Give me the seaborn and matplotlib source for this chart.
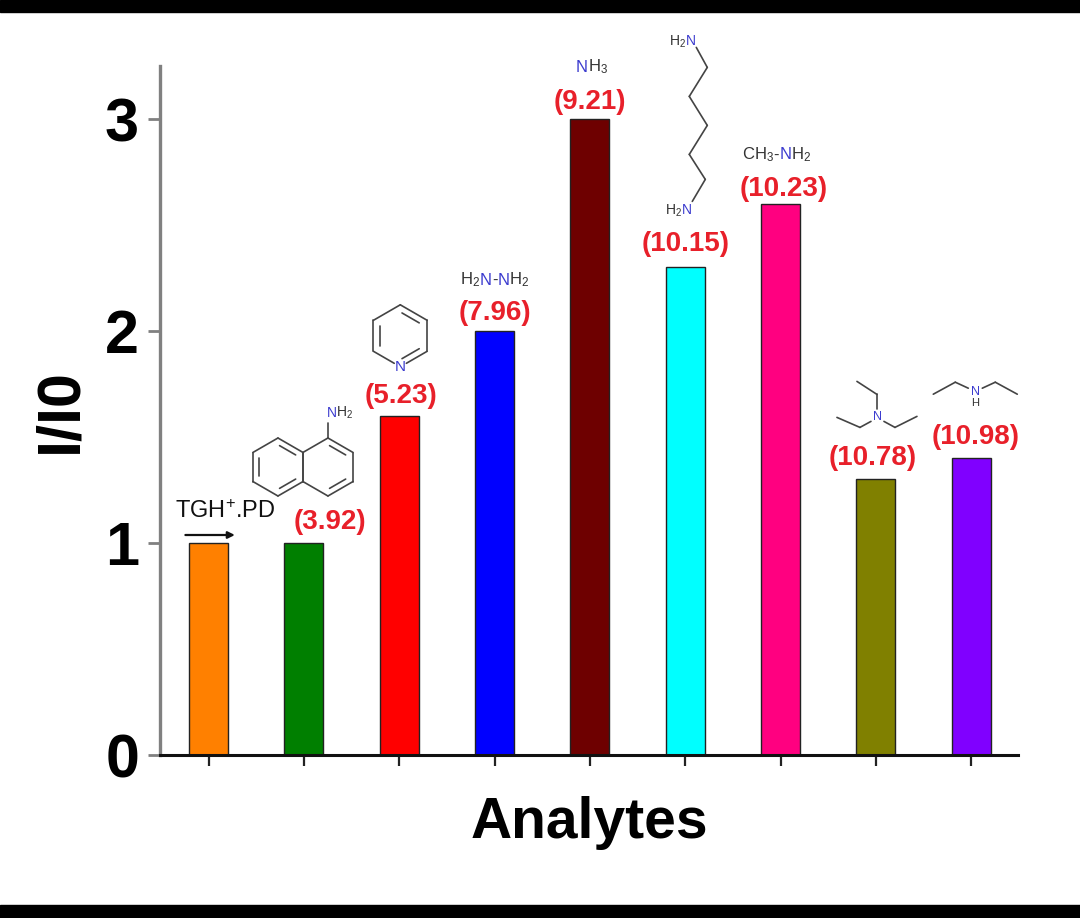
import numpy as np
import matplotlib
matplotlib.use("Agg")
import matplotlib.pyplot as plt
import seaborn as sns
from matplotlib.transforms import Affine2D, ScaledTranslation
from matplotlib.offsetbox import TextArea, HPacker, AnnotationBbox
from matplotlib.patches import Rectangle
from matplotlib.lines import Line2D

# data
analytes = ["TGH+.PD", "1-Naphthylamine", "Pyridine", "Hydrazine", "Ammonia",
            "Hexane-1,6-diamine", "Methylamine", "Triethylamine", "Diethylamine"]
ratio = [1.0, 1.0, 1.6, 2.0, 3.0, 2.3, 2.6, 1.3, 1.4]
pka = ["", "(3.92)", "(5.23)", "(7.96)", "(9.21)", "(10.15)", "(10.23)", "(10.78)", "(10.98)"]
bar_colors = ["#ff8000", "#007f00", "#ff0000", "#0000ff", "#6e0000",
              "#00ffff", "#ff0080", "#808000", "#8000ff"]
yticks = [0, 1, 2, 3]

# pixel offsets of the pKa labels from each bar top (dx, up)
pka_offsets = [(0, 0), (26, 21), (2, 20), (0, 18), (0, 17), (0, 23), (3, 15), (-3, 21), (4, 21)]

sns.set_style("ticks")
plt.rcParams["font.family"] = ["Liberation Sans", "DejaVu Sans"]
plt.rcParams["text.color"] = "black"
plt.rcParams["axes.labelcolor"] = "black"
plt.rcParams["ytick.labelcolor"] = "black"
plt.rcParams["mathtext.fontset"] = "custom"
plt.rcParams["mathtext.rm"] = "Liberation Sans"
plt.rcParams["mathtext.it"] = "Liberation Sans:italic"
plt.rcParams["mathtext.bf"] = "Liberation Sans:bold"

fig = plt.figure(figsize=(10.8, 9.18), dpi=100)
ax = fig.add_axes([160 / 1080, 1 - 755 / 918, 858 / 1080, 689 / 918])

sns.barplot(x=analytes, y=ratio, hue=analytes, palette=bar_colors, width=0.41,
            saturation=1, edgecolor="#222222", linewidth=1, legend=False, ax=ax)

ax.set_xlim(-0.51, 8.49)
ax.set_ylim(0, 3.25)
sns.despine(ax=ax)
ax.spines["left"].set_color("#808080")
ax.spines["left"].set_linewidth(2.4)
ax.spines["bottom"].set_color("#111111")
ax.spines["bottom"].set_linewidth(2.2)

ax.set_xticks(range(len(analytes)))
ax.tick_params(axis="x", length=8, width=1.6, color="#222222", labelbottom=False)
ax.set_yticks(yticks)
ax.set_yticklabels([str(t) for t in yticks], fontweight="bold", fontsize=44, color="black")
ax.tick_params(axis="y", length=9, width=2, color="#808080", pad=6)

ax.set_xlabel("Analytes", fontsize=41, fontweight="bold", color="black")
ax.xaxis.set_label_coords(0.5, -0.06)
ax.set_ylabel("I/I0", fontsize=44, fontweight="bold", color="black")
ax.yaxis.set_label_coords(-0.082, 0.5)

PT = 72 / 100  # px -> points
GRAY = "#333333"
BLUE = "#3c3ccf"


def anchor(i):
    return Affine2D() + ScaledTranslation(i, ratio[i], ax.transData)


def bonds(i, segs, lw=1.2):
    tr = anchor(i)
    for (x0, y0), (x1, y1) in segs:
        ax.add_artist(Line2D([x0, x1], [y0, y1], transform=tr, color="#444444",
                             lw=lw, clip_on=False))


def ring(cx, cy, s, doubles, ngap=None):
    ang = np.radians([90, 30, -30, -90, -150, 150])
    vx, vy = cx + s * np.cos(ang), cy + s * np.sin(ang)
    segs = []
    for k in range(6):
        a = np.array([vx[k], vy[k]])
        b = np.array([vx[(k + 1) % 6], vy[(k + 1) % 6]])
        d = (b - a) / np.linalg.norm(b - a)
        a0, b0 = a.copy(), b.copy()
        if ngap is not None and k == ngap:
            a0 = a + d * 7
        if ngap is not None and (k + 1) % 6 == ngap:
            b0 = b - d * 7
        segs.append((tuple(a0), tuple(b0)))
        if k in doubles:
            c = np.array([cx, cy])
            mid = (a + b) / 2
            sh = (c - mid) / np.linalg.norm(c - mid) * 0.2 * s
            segs.append((tuple(a + sh + d * 0.18 * s), tuple(b + sh - d * 0.18 * s)))
    return segs


def chem(i, parts, dx, dy, size=11):
    boxes = [TextArea(t, textprops=dict(color=c, fontsize=size)) for t, c in parts]
    pack = HPacker(children=boxes, align="baseline", pad=0, sep=0)
    ab = AnnotationBbox(pack, (i, ratio[i]), xybox=(dx * PT, dy * PT),
                        xycoords="data", boxcoords="offset points",
                        frameon=False, box_alignment=(0.5, 0.5), annotation_clip=False)
    ax.add_artist(ab)


# pKa labels
for i, lab in enumerate(pka):
    if lab:
        dx, dy = pka_offsets[i]
        ax.annotate(lab, (i, ratio[i]), xytext=(dx * PT, dy * PT), textcoords="offset points",
                    ha="center", va="center", color="#e8202a", fontsize=20,
                    fontweight="bold", annotation_clip=False)

# reference sample label and arrow
ax.annotate("TGH$^{+}$.PD", (0, ratio[0]), xytext=(17 * PT, 31 * PT), textcoords="offset points",
            ha="center", va="center", fontsize=17, color="#111111", annotation_clip=False)
ax.annotate("", xy=(29, 8), xytext=(-26, 8), xycoords=anchor(0), textcoords=anchor(0),
            arrowprops=dict(arrowstyle="-|>", color="#111111", lw=1.6, mutation_scale=10),
            annotation_clip=False)

# 1-naphthylamine
segs = ring(-26, 76, 29, (0, 2, 4)) + ring(24, 76, 29, (0, 2))
segs.append(((24, 105), (24, 120)))
bonds(1, segs)
chem(1, [("N", BLUE), ("H$_2$", GRAY)], 36, 130, size=10)

# pyridine
bonds(2, ring(1, 80, 31, (0, 2, 4), ngap=3))
chem(2, [("N", BLUE)], 1, 49, size=11)

# hydrazine / ammonia / methylamine
chem(3, [("H$_2$", GRAY), ("N", BLUE), ("-", GRAY), ("N", BLUE), ("H$_2$", GRAY)], 0, 51, size=12)
chem(4, [("N", BLUE), ("H$_3$", GRAY)], 2, 52, size=12)
chem(6, [("CH$_3$-", GRAY), ("N", BLUE), ("H$_2$", GRAY)], -4, 49, size=12)

# hexane-1,6-diamine chain
chain = [(11, 220), (22, 200), (4, 171), (22, 142), (4, 113), (20, 88), (7, 66)]
bonds(5, list(zip(chain[:-1], chain[1:])))
chem(5, [("H$_2$", GRAY), ("N", BLUE)], -3, 226, size=10)
chem(5, [("H$_2$", GRAY), ("N", BLUE)], -7, 57, size=10)

# triethylamine
bonds(7, [((1, 70), (1, 85)), ((1, 85), (-19, 98)),
          ((-5, 58), (-16, 52)), ((-16, 52), (-39, 62)),
          ((8, 58), (19, 52)), ((19, 52), (41, 63))])
chem(7, [("N", BLUE)], 2, 62, size=9)

# diethylamine
bonds(8, [((-3, 70), (-16, 76)), ((-16, 76), (-38, 64)),
          ((11, 70), (24, 76)), ((24, 76), (46, 64))])
chem(8, [("N", BLUE)], 4, 66, size=9)
chem(8, [("H", GRAY)], 4, 55, size=8)

# black bands at top and bottom of the picture
fig.add_artist(Rectangle((0, 1 - 12 / 918), 1, 12 / 918, transform=fig.transFigure,
                         color="black", zorder=10))
fig.add_artist(Rectangle((0, 0), 1, 13 / 918, transform=fig.transFigure,
                         color="black", zorder=10))

fig.savefig("out.png", dpi=100)
